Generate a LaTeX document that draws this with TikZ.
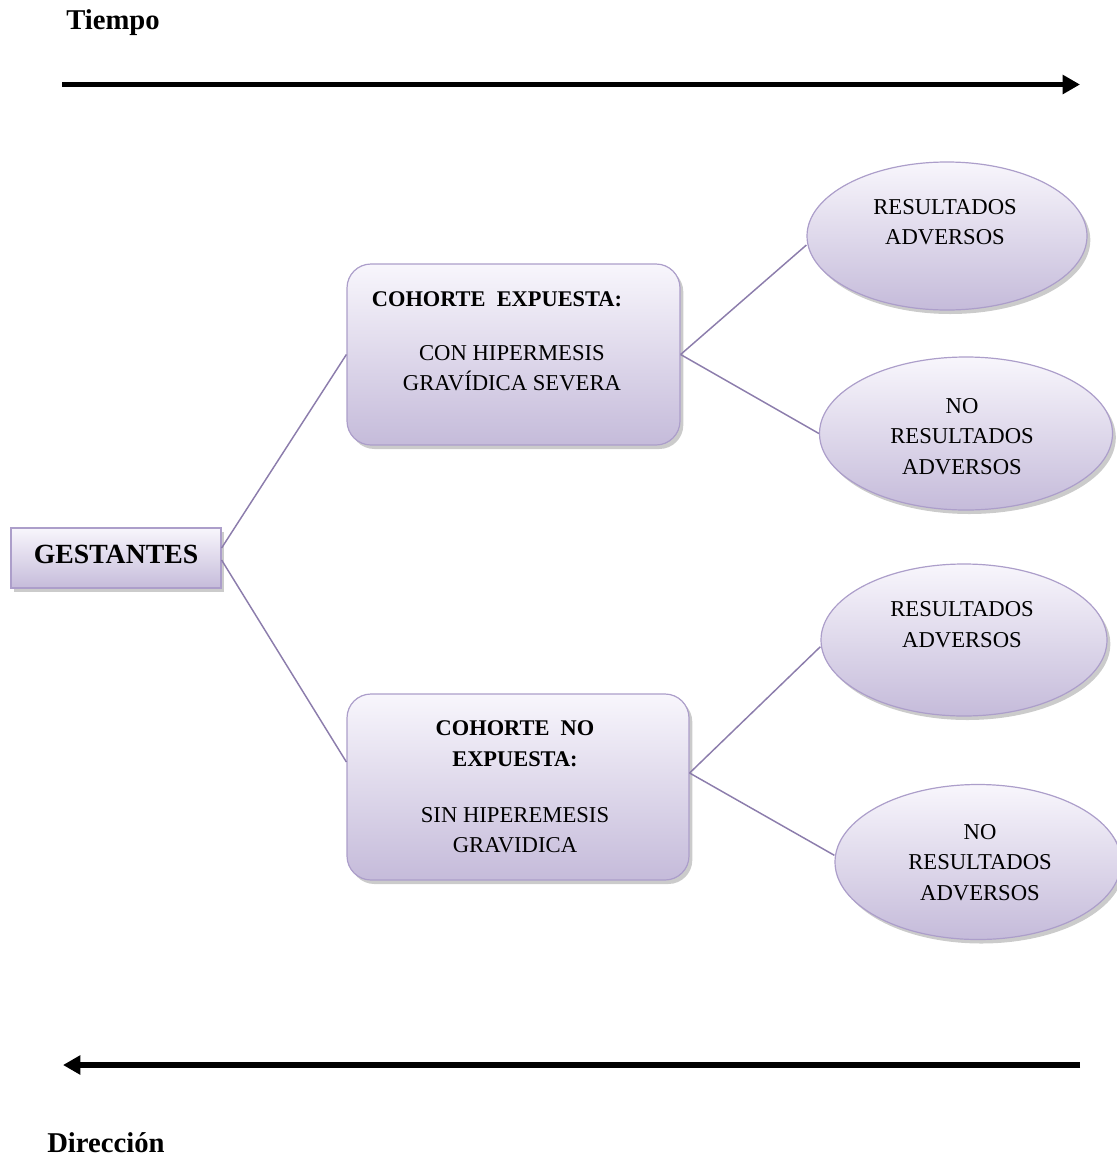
\documentclass[tikz,border=0pt]{standalone}
\usepackage{fontspec}
\setmainfont{Liberation Serif}
\usetikzlibrary{arrows.meta,shapes.geometric,shadows}
\definecolor{lavtop}{RGB}{248,246,252}
\definecolor{lavbot}{RGB}{197,187,218}
\definecolor{lavedge}{RGB}{172,158,202}
\definecolor{lavline}{RGB}{140,125,172}
\begin{document}
\begin{tikzpicture}[x=0.75pt,y=-0.75pt,
  shade/.style={top color=lavtop,bottom color=lavbot,draw=lavedge,line width=0.9pt,
    drop shadow={shadow xshift=2.5pt,shadow yshift=-3pt,fill=black!45,opacity=0.45}},
  gbox/.style={shade,rectangle,inner sep=0pt,minimum width=157.5pt,minimum height=45pt},
  cbox/.style={shade,rectangle,rounded corners=18pt,inner sep=0pt},
  oval/.style={shade,ellipse,inner sep=0pt},
  txt/.style={align=center,font=\fontsize{17}{22.8}\selectfont,inner sep=0pt},
  btxt/.style={txt,font=\fontsize{16.8}{23}\selectfont\bfseries},
  conn/.style={draw=lavline,line width=1.1pt},
  timearrow/.style={line width=3.9pt,-{Triangle[length=13pt,width=13.8pt]}}]
\useasboundingbox (0,0) rectangle (1117,1157);
\node[anchor=base west,font=\fontsize{21.5}{24}\selectfont\bfseries,inner sep=0pt] (tiempo) at (66,29) {Tiempo};
\node[anchor=base west,font=\fontsize{21.5}{24}\selectfont\bfseries,inner sep=0pt] (direccion) at (47,1152) {Dirección};
\coordinate (ta) at (62,84.5);
\coordinate (tb) at (1080,84.5);
\draw[timearrow] (ta) -- (tb);
\coordinate (da) at (1080,1065);
\coordinate (db) at (63,1065);
\draw[timearrow] (da) -- (db);

\node[gbox] (gest) at (116,558) {};
\node[inner sep=0pt,font=\fontsize{20.8}{24}\selectfont\bfseries] (gesttxt) at (116,554) {GESTANTES};

\node[cbox,minimum width=249.75pt,minimum height=135.75pt] (box1) at (513.5,354.5) {};
\node[btxt] (box1t) at (497,299) {COHORTE\ \ EXPUESTA:};
\node[txt] (box1b) at (512,368) {CON HIPERMESIS\\GRAVÍDICA SEVERA};

\node[cbox,minimum width=256.5pt,minimum height=139.5pt] (box2) at (518,787) {};
\node[btxt] (box2t) at (515,743.5) {COHORTE\ \ NO\\EXPUESTA:};
\node[txt] (box2b) at (515,830) {SIN HIPEREMESIS\\GRAVIDICA};

\node[oval,minimum width=210pt,minimum height=111pt] (e1) at (947,236) {};
\node[txt] (e1t) at (945,222) {RESULTADOS\\ADVERSOS};
\node[oval,minimum width=219.75pt,minimum height=114.75pt] (e2) at (966,433.5) {};
\node[txt] (e2t) at (962,436.5) {NO\\RESULTADOS\\ADVERSOS};
\node[oval,minimum width=214.5pt,minimum height=114pt] (e3) at (964,640) {};
\node[txt] (e3t) at (962,624.5) {RESULTADOS\\ADVERSOS};
\node[oval,minimum width=214.5pt,minimum height=116.25pt] (e4) at (978,862) {};
\node[txt] (e4t) at (980,862.5) {NO\\RESULTADOS\\ADVERSOS};

\draw[conn] ([yshift=7.5pt]gest.east) -- (box1.west);
\draw[conn] ([yshift=-1.5pt]gest.east) -- ([yshift=18.75pt]box2.west);
\draw[conn] (box1.east) -- ([yshift=-6.75pt]e1.west);
\draw[conn] (box1.east) -- (e2.west);
\draw[conn] ([yshift=10.5pt]box2.east) -- ([yshift=-5pt]e3.west);
\draw[conn] ([yshift=10.5pt]box2.east) -- ([yshift=5pt]e4.west);
\end{tikzpicture}
\end{document}
